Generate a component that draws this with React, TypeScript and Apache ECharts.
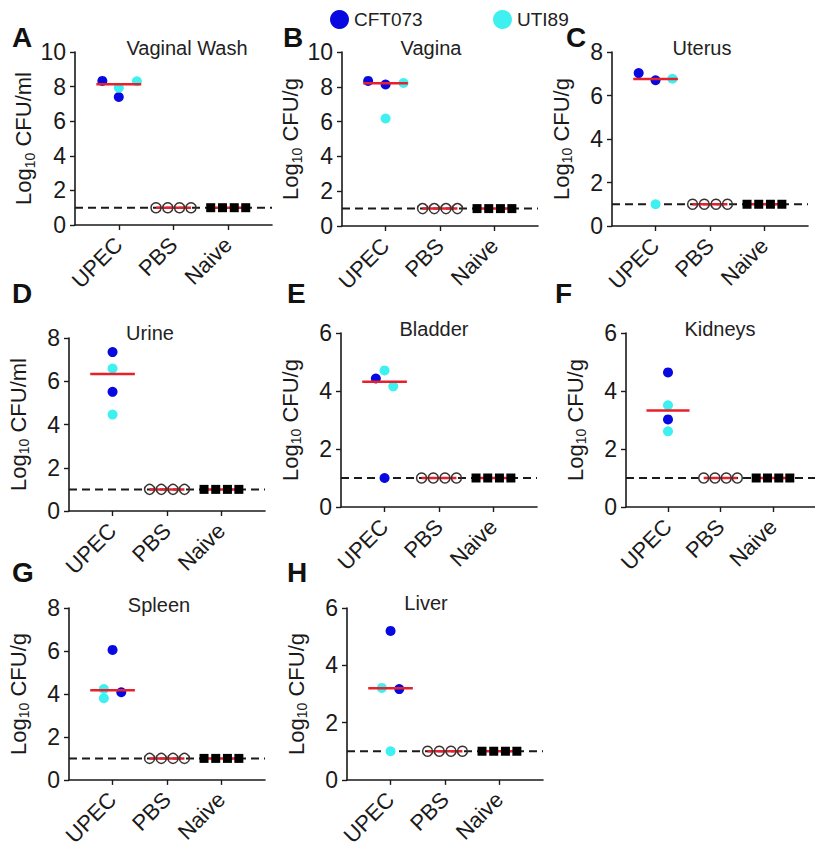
import React, { useEffect, useRef } from 'react';
import * as echarts from 'echarts';

// ---------- data ----------
const categories = ['UPEC', 'PBS', 'Naive'];
const panelLetters = ['A', 'B', 'C', 'D', 'E', 'F', 'G', 'H'];
const panelTitles = ['Vaginal Wash', 'Vagina', 'Uterus', 'Urine', 'Bladder', 'Kidneys', 'Spleen', 'Liver'];
const yUnits = ['ml', 'g', 'g', 'ml', 'g', 'g', 'g', 'g'];
const yMax = [10, 10, 8, 8, 6, 6, 8, 6];

// UPEC group, per panel: log10 CFU values
const cft073Values = [
  [8.33, 7.4],
  [8.34, 8.13],
  [7.03, 6.7],
  [7.35, 5.51],
  [4.43, 1.0],
  [4.64, 3.02],
  [6.05, 4.08],
  [5.2, 3.17],
];
// horizontal jitter of each point within the UPEC column (category units)
const cft073Jitter = [
  [-0.3, 0],
  [-0.32, 0],
  [-0.31, 0],
  [0, 0],
  [-0.16, 0],
  [0, 0],
  [0, 0.16],
  [0, 0.16],
];
const uti89Values = [
  [7.94, 8.31],
  [8.22, 6.18],
  [6.77, 1.0],
  [6.59, 4.46],
  [4.71, 4.16],
  [3.51, 2.61],
  [4.23, 3.8],
  [3.21, 1.0],
];
const uti89Jitter = [
  [0, 0.33],
  [0.33, 0],
  [0.31, 0],
  [0, 0],
  [0, 0.16],
  [0, 0],
  [-0.16, -0.16],
  [-0.16, 0],
];
const upecMedians = [8.13, 8.2, 6.76, 6.33, 4.32, 3.33, 4.17, 3.2];
const pbsValues = [1, 1, 1, 1];
const naiveValues = [1, 1, 1, 1];
const controlJitter = [-0.32, -0.105, 0.11, 0.32];
const detectionLimit = 1;

// ---------- layout / style ----------
const X_MIN = 0.2;
const X_MAX = 3.8;
const panelBoxes = [
  { left: 75, top: 52, width: 197, height: 173 },
  { left: 342, top: 52, width: 196, height: 174 },
  { left: 612, top: 52, width: 196, height: 174 },
  { left: 69, top: 338, width: 196, height: 173 },
  { left: 341, top: 333, width: 196, height: 174 },
  { left: 626, top: 333, width: 196, height: 174 },
  { left: 69, top: 608, width: 196, height: 174 },
  { left: 347, top: 608, width: 196, height: 174 },
];
const letterPos = [
  [12, 51], [283, 51], [566, 51],
  [12, 307], [287, 307], [555, 307],
  [12, 586], [287, 586],
];
const titlePos = [
  [187, 48], [431, 48], [702, 48],
  [150, 333], [434, 329], [720, 329],
  [159, 605], [426, 603],
];

const BLUE = '#0808e0';
const CYAN = '#3ef0f0';
const RED = '#e8202a';
const INK = '#1a1a1a';
const FONT = '"Liberation Sans", Arial, Helvetica, sans-serif';

function buildOption() {
  const grid: any[] = [];
  const xAxis: any[] = [];
  const yAxis: any[] = [];
  const series: any[] = [];
  const graphic: any[] = [];

  panelBoxes.forEach((b, i) => {
    grid.push({ left: b.left, top: b.top, width: b.width, height: b.height, containLabel: false });
    xAxis.push({
      type: 'value',
      gridIndex: i,
      min: X_MIN,
      max: X_MAX,
      splitLine: { show: false },
      axisLine: { show: true, onZero: false, lineStyle: { color: INK, width: 1.6 } },
      axisTick: { show: true, customValues: [1, 2, 3], length: 5, lineStyle: { color: INK, width: 1.4 } },
      axisLabel: {
        show: true,
        customValues: [1, 2, 3],
        formatter: (v: number) => categories[Math.round(v) - 1] || '',
        rotate: 45,
        margin: 16,
        fontSize: 22,
        color: INK,
        fontFamily: FONT,
      },
    });
    yAxis.push({
      type: 'value',
      gridIndex: i,
      min: 0,
      max: yMax[i],
      interval: 2,
      splitLine: { show: false },
      axisLine: { show: true, lineStyle: { color: INK, width: 1.6 } },
      axisTick: { show: true, length: 5, lineStyle: { color: INK, width: 1.4 } },
      axisLabel: { fontSize: 23, color: INK, margin: 9, fontFamily: FONT },
      name: '{n|Log}{s|10}{n| CFU/' + yUnits[i] + '}',
      nameLocation: 'middle',
      nameGap: 38,
      nameTextStyle: {
        color: INK,
        fontFamily: FONT,
        rich: {
          n: { fontSize: 22, color: INK, fontFamily: FONT },
          s: { fontSize: 14, color: INK, fontFamily: FONT, padding: [12, 0, 0, 0] },
        },
      },
    });

    // dashed detection limit
    series.push({
      type: 'line',
      xAxisIndex: i,
      yAxisIndex: i,
      data: [[X_MIN, detectionLimit], [X_MAX, detectionLimit]],
      symbol: 'none',
      silent: true,
      lineStyle: { color: INK, width: 2, type: [8, 5] },
      z: 1,
    });
    series.push({
      type: 'scatter',
      name: 'CFT073',
      xAxisIndex: i,
      yAxisIndex: i,
      symbol: 'circle',
      symbolSize: 10,
      itemStyle: { color: BLUE, opacity: 1 },
      data: cft073Values[i].map((v, k) => [1 + cft073Jitter[i][k], v]),
      z: 3,
    });
    series.push({
      type: 'scatter',
      name: 'UTI89',
      xAxisIndex: i,
      yAxisIndex: i,
      symbol: 'circle',
      symbolSize: 10,
      itemStyle: { color: CYAN, opacity: 1 },
      data: uti89Values[i].map((v, k) => [1 + uti89Jitter[i][k], v]),
      z: 3,
    });
    const m = upecMedians[i];
    series.push({
      type: 'line',
      xAxisIndex: i,
      yAxisIndex: i,
      symbol: 'none',
      silent: true,
      connectNulls: false,
      lineStyle: { color: RED, width: 2.5 },
      data: [
        [1 - 0.41, m], [1 + 0.41, m], [1.5, '-'],
        [2 - 0.32, pbsValues[0]], [2 + 0.32, pbsValues[3]], [2.5, '-'],
        [3 - 0.32, naiveValues[0]], [3 + 0.32, naiveValues[3]],
      ],
      z: 4,
    });
    series.push({
      type: 'scatter',
      name: 'PBS',
      xAxisIndex: i,
      yAxisIndex: i,
      symbol: 'circle',
      symbolSize: 10,
      itemStyle: { color: 'rgba(0,0,0,0)', borderColor: '#3a3232', borderWidth: 1.5, opacity: 1 },
      data: pbsValues.map((v, k) => [2 + controlJitter[k], v]),
      z: 5,
    });
    series.push({
      type: 'scatter',
      name: 'Naive',
      xAxisIndex: i,
      yAxisIndex: i,
      symbol: 'rect',
      symbolSize: 9,
      itemStyle: { color: '#000', opacity: 1 },
      data: naiveValues.map((v, k) => [3 + controlJitter[k], v]),
      z: 5,
    });

    graphic.push({
      type: 'text',
      x: letterPos[i][0],
      y: letterPos[i][1],
      style: {
        text: panelLetters[i],
        fontSize: 28,
        fontWeight: 'bold',
        fontFamily: FONT,
        fill: '#111',
        align: 'left',
        verticalAlign: 'bottom',
      },
    });
    graphic.push({
      type: 'text',
      x: titlePos[i][0],
      y: titlePos[i][1],
      style: {
        text: panelTitles[i],
        fontSize: 20,
        fontFamily: FONT,
        fill: '#222',
        align: 'center',
        verticalAlign: 'middle',
      },
    });
  });

  const legendBase = {
    top: 5,
    itemWidth: 19,
    itemHeight: 19,
    itemGap: 10,
    icon: 'circle',
    textStyle: { fontSize: 19, color: '#222', fontFamily: FONT },
    selectedMode: false,
  };

  return {
    animation: false,
    backgroundColor: '#fff',
    textStyle: { fontFamily: FONT },
    legend: [
      { ...legendBase, left: 325, data: ['CFT073'] },
      { ...legendBase, left: 488, data: ['UTI89'] },
    ],
    grid,
    xAxis,
    yAxis,
    series,
    graphic,
  };
}

export default function App() {
  const ref = useRef<HTMLDivElement>(null);
  useEffect(() => {
    if (!ref.current) return;
    const chart = echarts.init(ref.current, undefined, { renderer: 'svg' });
    chart.setOption(buildOption() as any);
    return () => chart.dispose();
  }, []);
  return (
    <div
      ref={ref}
      style={{ position: 'absolute', left: 0, top: 0, width: 815, height: 849, background: '#fff' }}
    />
  );
}
